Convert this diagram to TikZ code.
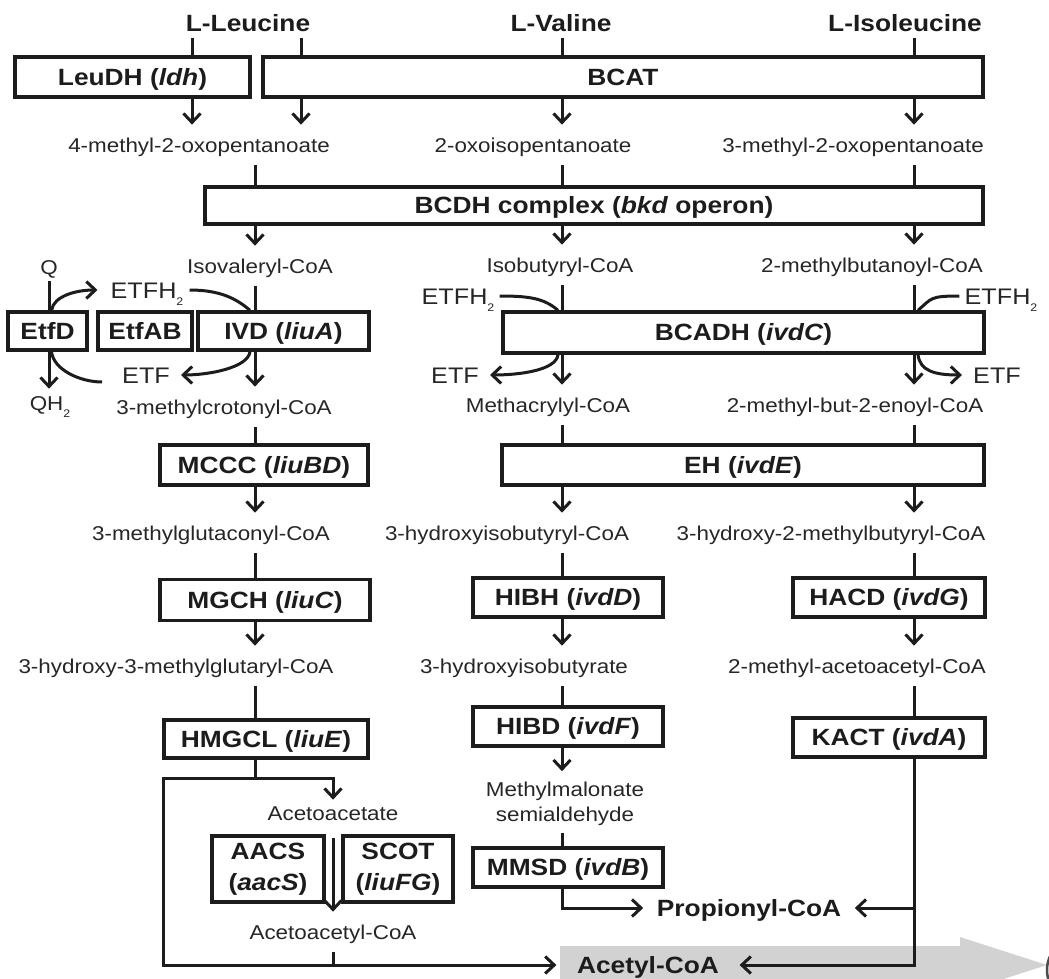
\documentclass[tikz,border=0pt]{standalone}
\usepackage{fontspec}
\setmainfont{Liberation Sans}[FakeStretch=1.12]
\usetikzlibrary{arrows.meta}
\newcommand{\metf}{\fontsize{20}{25}\selectfont}
\newcommand{\labf}{\fontsize{23.5}{31}\selectfont\bfseries}
\newcommand{\etff}{\fontsize{22.5}{27}\selectfont}
\newcommand{\subtwo}{\raisebox{-7pt}{\fontsize{11}{11}\selectfont 2}}
\definecolor{ink}{HTML}{1C1C1C}
\definecolor{band}{HTML}{D2D2D2}
\begin{document}
\begin{tikzpicture}[x=1pt,y=-1pt,
  ln/.style={line width=3pt,draw=ink},
  arr/.style={ln,-{Straight Barb[length=9pt,width=17pt]}},
  box/.style={draw=ink,line width=3.4pt,font=\labf,text=ink,inner sep=0pt,
    text height=16.8pt,text depth=0pt},
  twobox/.style={draw=ink,line width=3.4pt,font=\labf,text=ink,inner sep=0pt,align=center},
  met/.style={font=\metf,text=black!85,text height=14.3pt,text depth=0pt,
    inner xsep=2pt,inner ysep=13pt},
  top/.style={font=\labf,text=ink,text height=16.8pt,text depth=0pt,inner ysep=6pt},
  etf/.style={font=\etff,text=black!85,text height=16.1pt,text depth=0pt,inner sep=2pt},
  qlab/.style={font=\metf,text=black!85,text height=14.3pt,text depth=0pt,inner ysep=7pt}]
\clip (0,0) rectangle (1049,979);

% column positions
\coordinate (cA) at (192,0);
\coordinate (cB) at (301,0);
\coordinate (cL) at (255,0);
\coordinate (cV) at (562,0);
\coordinate (cI) at (914,0);
\coordinate (cQ) at (49,0);
\coordinate (xW) at (163,0);

% product arrow behind Acetyl-CoA
\fill[band] (560,946) -- (960,946) -- (960,937) -- (1047,965) -- (960,993)
  -- (960,986) -- (560,986) -- cycle;
\draw[line width=2.5pt,black!70] (1080,970) circle (33pt);

% amino acids
\node[top] (leu) at (248,23) {L-Leucine};
\node[top] (val) at (561,23) {L-Valine};
\node[top] (ile) at (905,23) {L-Isoleucine};

% enzymes
\node[box,minimum width=235pt,minimum height=40pt] (ldh) at (132.5,77) {LeuDH (\textit{ldh})};
\node[box,minimum width=720pt,minimum height=40pt] (bcat) at (623,77) {BCAT};
\node[box,minimum width=778pt,minimum height=37pt] (bcdh) at (594,205.5) {BCDH complex (\textit{bkd} operon)};
\node[box,minimum width=79pt,minimum height=38pt] (etfd) at (47.5,331) {EtfD};
\node[box,minimum width=94pt,minimum height=38pt] (etfab) at (145,331) {EtfAB};
\node[box,minimum width=171pt,minimum height=38pt] (ivd) at (283.5,331) {IVD (\textit{liuA})};
\node[box,minimum width=481pt,minimum height=41pt] (bcadh) at (743.5,332.5) {BCADH (\textit{ivdC})};
\node[box,minimum width=208pt,minimum height=40pt] (mccc) at (264,465) {MCCC (\textit{liuBD})};
\node[box,minimum width=482pt,minimum height=40pt] (eh) at (743,465) {EH (\textit{ivdE})};
\node[box,minimum width=210pt,minimum height=41pt] (mgch) at (265,600) {MGCH (\textit{liuC})};
\node[box,minimum width=190pt,minimum height=39pt] (hibh) at (568,597.5) {HIBH (\textit{ivdD})};
\node[box,minimum width=192pt,minimum height=39pt] (hacd) at (889,597.5) {HACD (\textit{ivdG})};
\node[box,minimum width=204pt,minimum height=38pt] (hmgcl) at (266,739) {HMGCL (\textit{liuE})};
\node[box,minimum width=190pt,minimum height=39pt] (hibd) at (568,726.5) {HIBD (\textit{ivdF})};
\node[box,minimum width=192pt,minimum height=39pt] (kact) at (889,737.5) {KACT (\textit{ivdA})};
\node[twobox,minimum width=112pt,minimum height=66pt] (aacs) at (268,869) {AACS\\(\textit{aacS})};
\node[twobox,minimum width=110pt,minimum height=66pt] (scot) at (398,869) {SCOT\\(\textit{liuFG})};
\node[box,minimum width=190pt,minimum height=39pt] (mmsd) at (568,867.5) {MMSD (\textit{ivdB})};

% intermediates
\node[met] (m1L) at (199,145) {4-methyl-2-oxopentanoate};
\node[met] (m1V) at (533,145) {2-oxoisopentanoate};
\node[met] (m1I) at (853,145) {3-methyl-2-oxopentanoate};
\node[met] (m2L) at (260,266) {Isovaleryl-CoA};
\node[met] (m2V) at (560,265) {Isobutyryl-CoA};
\node[met] (m2I) at (872,265) {2-methylbutanoyl-CoA};
\node[met] (m3L) at (224,407) {3-methylcrotonyl-CoA};
\node[met] (m3V) at (548,405) {Methacrylyl-CoA};
\node[met] (m3I) at (855,405) {2-methyl-but-2-enoyl-CoA};
\node[met] (m4L) at (211,533) {3-methylglutaconyl-CoA};
\node[met] (m4V) at (507,533) {3-hydroxyisobutyryl-CoA};
\node[met] (m4I) at (831,533) {3-hydroxy-2-methylbutyryl-CoA};
\node[met] (m5L) at (176,666) {3-hydroxy-3-methylglutaryl-CoA};
\node[met] (m5V) at (524,666) {3-hydroxyisobutyrate};
\node[met] (m5I) at (857,666) {2-methyl-acetoacetyl-CoA};
\node[met,align=center,text height=39.3pt,inner ysep=11pt] (m6V) at (565,802) {Methylmalonate\\semialdehyde};
\node[met,inner ysep=6pt] (acac) at (333,813) {Acetoacetate};
\node[met] (acacoa) at (333,932) {Acetoacetyl-CoA};
\node[top,inner xsep=13.5pt] (prop) at (749,908) {Propionyl-CoA};
\node[top,inner xsep=20.5pt] (acet) at (648,965) {Acetyl-CoA};

% electron transfer labels
\node[qlab] (q) at (49,267) {Q};
\node[qlab] (qh2) at (50,403) {QH\subtwo};
\node[etf] (etfhL) at (147,290) {ETFH\subtwo};
\node[etf] (etfL) at (146,375) {ETF};
\node[etf] (etfhV) at (458,296) {ETFH\subtwo};
\node[etf] (etfV) at (455,375) {ETF};
\node[etf] (etfhI) at (1001,296) {ETFH\subtwo};
\node[etf] (etfI) at (997,375) {ETF};

% amino acid -> transamination / dehydrogenation
\draw[ln] (leu.south -| cA) -- (ldh.north -| cA);
\draw[ln] (leu.south -| cB) -- (bcat.north -| cB);
\draw[ln] (val.south -| cV) -- (bcat.north -| cV);
\draw[ln] (ile.south -| cI) -- (bcat.north -| cI);
\draw[arr] (ldh.south -| cA) -- (m1L.north -| cA);
\draw[arr] (bcat.south -| cB) -- (m1L.north -| cB);
\draw[arr] (bcat.south -| cV) -- (m1V.north -| cV);
\draw[arr] (bcat.south -| cI) -- (m1I.north -| cI);

% BCDH complex
\draw[ln] (m1L.south -| cL) -- (bcdh.north -| cL);
\draw[ln] (m1V.south -| cV) -- (bcdh.north -| cV);
\draw[ln] (m1I.south -| cI) -- (bcdh.north -| cI);
\draw[arr] (bcdh.south -| cL) -- (m2L.north -| cL);
\draw[arr] (bcdh.south -| cV) -- (m2V.north -| cV);
\draw[arr] (bcdh.south -| cI) -- (m2I.north -| cI);

% acyl-CoA dehydrogenases
\draw[ln] (m2L.south -| cL) -- (ivd.north -| cL);
\draw[ln] (m2V.south -| cV) -- (bcadh.north -| cV);
\draw[ln] (m2I.south -| cI) -- (bcadh.north -| cI);
\draw[arr] (ivd.south -| cL) -- (m3L.north -| cL);
\draw[arr] (bcadh.south -| cV) -- (m3V.north -| cV);
\draw[arr] (bcadh.south -| cI) -- (m3I.north -| cI);

% electron transfer flavoprotein loop
\coordinate (ivdTop) at (ivd.north -| cL);
\coordinate (ivdBot) at (ivd.south -| cL);
\coordinate (bcTopV) at (bcadh.north -| cV);
\coordinate (bcBotV) at (bcadh.south -| cV);
\coordinate (bcTopI) at (bcadh.north -| cI);
\coordinate (bcBotI) at (bcadh.south -| cI);
\draw[ln] (q.south -| cQ) -- (etfd.north -| cQ);
\draw[arr] (etfd.south -| cQ) -- (qh2.north -| cQ);
\draw[arr] ([xshift=4pt]etfd.north) .. controls +(2,-14) and +(-22,0) .. ([xshift=-11pt]etfhL.west);
\draw[ln] ([xshift=4pt]etfhL.east) .. controls +(30,0) and +(-14,-12) .. ([xshift=-5pt]ivdTop);
\draw[ln] ([xshift=4pt]etfd.south) .. controls +(2,18) and +(-22,0) .. ([xshift=-18pt,yshift=-7pt]etfL.west);
\draw[arr] ([xshift=-5pt]ivdBot) .. controls +(-2,16) and +(28,0) .. ([xshift=9pt]etfL.east);
\draw[ln] ([xshift=3pt]etfhV.east) .. controls +(30,0) and +(-14,-12) .. ([xshift=-4pt]bcTopV);
\draw[arr] ([xshift=-4pt]bcBotV) .. controls +(-2,16) and +(28,0) .. ([xshift=9pt]etfV.east);
\draw[ln] ([xshift=-3pt]etfhI.west) .. controls +(-30,0) and +(14,-12) .. ([xshift=4pt]bcTopI);
\draw[arr] ([xshift=4pt]bcBotI) .. controls +(2,16) and +(-28,0) .. ([xshift=-9pt]etfI.west);

% carboxylase / hydratase
\draw[ln] (m3L.south -| cL) -- (mccc.north -| cL);
\draw[ln] (m3V.south -| cV) -- (eh.north -| cV);
\draw[ln] (m3I.south -| cI) -- (eh.north -| cI);
\draw[arr] (mccc.south -| cL) -- (m4L.north -| cL);
\draw[arr] (eh.south -| cV) -- (m4V.north -| cV);
\draw[arr] (eh.south -| cI) -- (m4I.north -| cI);
\draw[ln] (m4L.south -| cL) -- (mgch.north -| cL);
\draw[ln] (m4V.south -| cV) -- (hibh.north -| cV);
\draw[ln] (m4I.south -| cI) -- (hacd.north -| cI);
\draw[arr] (mgch.south -| cL) -- (m5L.north -| cL);
\draw[arr] (hibh.south -| cV) -- (m5V.north -| cV);
\draw[arr] (hacd.south -| cI) -- (m5I.north -| cI);
\draw[ln] (m5L.south -| cL) -- (hmgcl.north -| cL);
\draw[ln] (m5V.south -| cV) -- (hibd.north -| cV);
\draw[ln] (m5I.south -| cI) -- (kact.north -| cI);
\draw[arr] (hibd.south -| cV) -- (m6V.north -| cV);
\draw[ln] (m6V.south -| cV) -- (mmsd.north -| cV);

% leucine end: HMG-CoA lyase branch
\coordinate (jH) at (255,778);
\draw[ln] (hmgcl.south -| cL) -- (jH);
\draw[arr] (jH) -| (acac.north);
\draw[arr] (jH) -- (jH -| xW) |- (acet.west);
\draw[arr] ([yshift=-12pt]acac.south) -- (acacoa.north);
\draw[ln] (acacoa.south) -- (acacoa.south |- acet.west);

% end products
\draw[arr] (mmsd.south -| cV) |- (prop.west);
\draw[arr] (kact.south -| cI) |- (acet.east);
\draw[arr] (prop.east -| cI) -- (prop.east);
\end{tikzpicture}
\end{document}
